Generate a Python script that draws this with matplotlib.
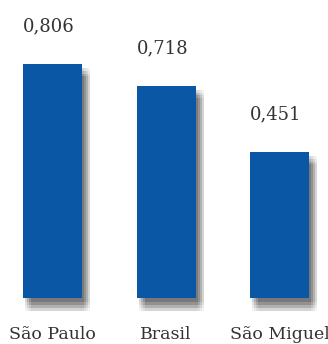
import matplotlib
matplotlib.use('Agg')
import matplotlib.pyplot as plt
import matplotlib.patheffects as pe

categories = ['São Paulo', 'Brasil', 'São Miguel']
values = [0.806, 0.718, 0.451]
value_labels = ['0,806', '0,718', '0,451']

base = -0.14
bar_color = '#0a57a6'
text_color = '#333333'

fig = plt.figure(figsize=(3.28, 3.44), dpi=100)
ax = fig.add_axes([0, 46/344, 1, 298/344])

x = list(range(len(categories)))
heights = [v - base for v in values]

# soft drop shadow: many faint offset layers to fake a blur
shadow = []
for dx in [1.5, 3, 4.5, 6]:
    for dy in [-3, -5, -7, -9]:
        shadow.append(pe.SimplePatchShadow(offset=(dx, dy), shadow_rgbFace='black', alpha=0.045))
bars = ax.bar(x, heights, bottom=base, width=0.52, color=bar_color, zorder=3, clip_on=False)
for b in bars:
    b.set_path_effects(shadow + [pe.Normal()])

for xi, v, lab in zip(x, values, value_labels):
    ax.annotate(lab, (xi - 0.26, v), xytext=(0, 27), textcoords='offset points',
                ha='left', va='center', fontsize=13, color=text_color,
                family='DejaVu Serif')

ax.set_xlim(-0.4626, 2.427)
ax.set_ylim(base, base + 1.2047)
ax.set_xticks(x)
ax.set_xticklabels(categories, fontsize=12.5, color=text_color, family='DejaVu Serif')
ax.tick_params(axis='x', length=0, pad=20)
ax.set_yticks([])
for s in ax.spines.values():
    s.set_visible(False)

fig.savefig('out.png', dpi=100)
